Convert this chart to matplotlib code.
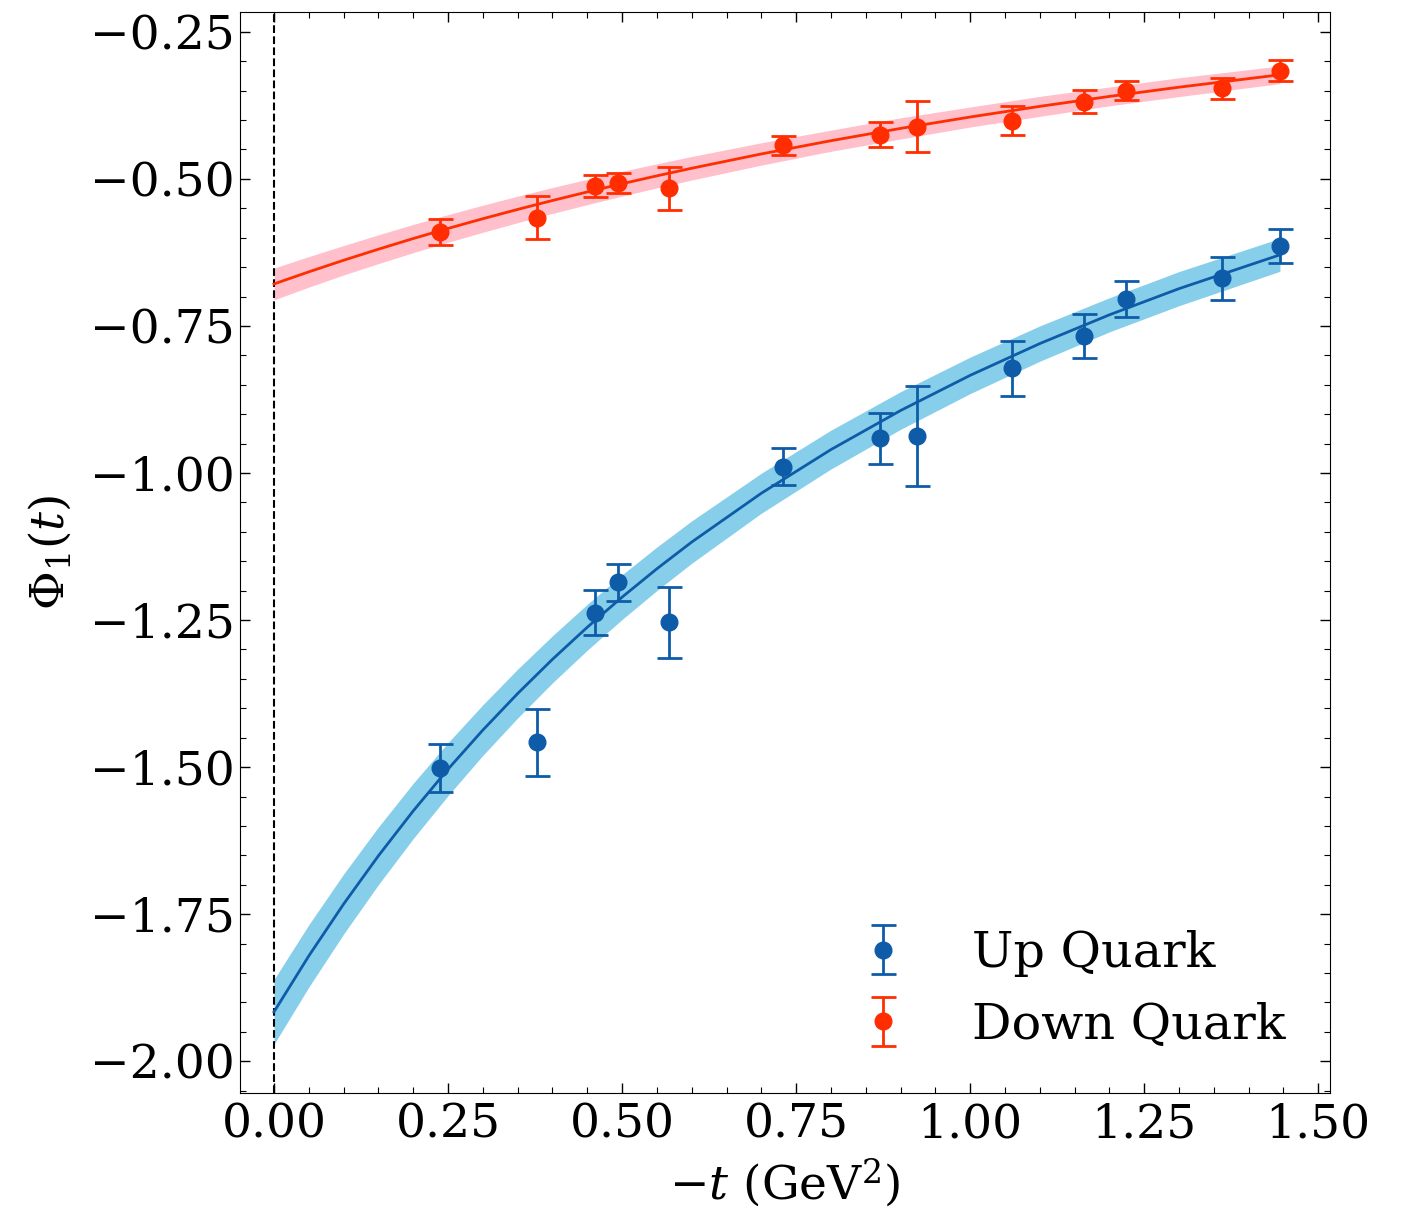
import matplotlib
matplotlib.use("Agg")
import matplotlib.pyplot as plt
from matplotlib.ticker import MultipleLocator

# === Data ===
# momentum transfer -t (GeV^2), shared by both quark flavours
neg_t = [0.2385, 0.378, 0.461, 0.494, 0.5675, 0.731, 0.870, 0.924,
         1.060, 1.163, 1.224, 1.362, 1.445]

up_vals = [-1.501, -1.4575, -1.2375, -1.186, -1.254, -0.989, -0.941, -0.9377,
           -0.822, -0.767, -0.704, -0.669, -0.614]
up_errs = [0.041, 0.057, 0.038, 0.032, 0.061, 0.031, 0.043, 0.085,
           0.047, 0.037, 0.031, 0.037, 0.029]

down_vals = [-0.590, -0.566, -0.512, -0.507, -0.516, -0.443, -0.425, -0.411,
             -0.401, -0.3685, -0.350, -0.346, -0.316]
down_errs = [0.022, 0.037, 0.019, 0.0165, 0.037, 0.016, 0.021, 0.044,
             0.025, 0.019, 0.0165, 0.018, 0.0176]

# fit curves and bands, sampled along -t
fit_t = [0.0, 0.05, 0.1, 0.15, 0.2, 0.25, 0.3, 0.35, 0.4, 0.45, 0.5, 0.55,
         0.6, 0.7, 0.8, 0.9, 1.0, 1.1, 1.2, 1.3, 1.445]
up_fit = [-1.916, -1.8209, -1.7327, -1.6507, -1.5744, -1.5034, -1.4370, -1.3749,
          -1.3167, -1.2622, -1.2110, -1.1628, -1.1174, -1.0344, -0.9602, -0.8938,
          -0.8340, -0.7800, -0.7311, -0.6866, -0.6291]
up_band = [0.055, 0.053, 0.051, 0.049, 0.047, 0.045, 0.043, 0.0415, 0.040, 0.039,
           0.038, 0.037, 0.036, 0.034, 0.033, 0.032, 0.031, 0.030, 0.029, 0.029, 0.028]
down_fit = [-0.6786, -0.6580, -0.6383, -0.6195, -0.6014, -0.5842, -0.5677, -0.5519,
            -0.5367, -0.5222, -0.5082, -0.4948, -0.4819, -0.4576, -0.4351, -0.4142,
            -0.3948, -0.3767, -0.3598, -0.3441, -0.3230]
down_band = [0.027, 0.026, 0.025, 0.0245, 0.024, 0.0235, 0.023, 0.0225, 0.022, 0.0215,
             0.021, 0.0205, 0.020, 0.019, 0.018, 0.018, 0.017, 0.017, 0.016, 0.016, 0.015]

UP_COLOR = "#0e5ca8"
DOWN_COLOR = "#ff2d00"

plt.rcParams["font.family"] = "DejaVu Serif"
plt.rcParams["mathtext.fontset"] = "dejavuserif"
FS = 34

fig = plt.figure(figsize=(14.03, 12.08), dpi=100)
ax = fig.add_axes([0.171, 0.0952, 0.777, 0.895])

ax.axvline(0.0, color="black", linestyle="--", linewidth=1.5)

# Up quark
ax.fill_between(fit_t, [f - b for f, b in zip(up_fit, up_band)],
                [f + b for f, b in zip(up_fit, up_band)],
                color="skyblue", linewidth=0)
ax.plot(fit_t, up_fit, color=UP_COLOR, linewidth=2)
ax.errorbar(neg_t, up_vals, yerr=up_errs, fmt="o", color=UP_COLOR,
            markersize=12, capsize=9, elinewidth=2, capthick=2, label="Up Quark")

# Down quark
ax.fill_between(fit_t, [f - b for f, b in zip(down_fit, down_band)],
                [f + b for f, b in zip(down_fit, down_band)],
                color="pink", linewidth=0)
ax.plot(fit_t, down_fit, color=DOWN_COLOR, linewidth=2)
ax.errorbar(neg_t, down_vals, yerr=down_errs, fmt="o", color=DOWN_COLOR,
            markersize=12, capsize=9, elinewidth=2, capthick=2, label="Down Quark")

ax.set_xlim(-0.049, 1.517)
ax.set_ylim(-2.054, -0.216)

ax.xaxis.set_major_locator(MultipleLocator(0.25))
ax.xaxis.set_minor_locator(MultipleLocator(0.05))
ax.yaxis.set_major_locator(MultipleLocator(0.25))
ax.yaxis.set_minor_locator(MultipleLocator(0.05))
ax.tick_params(which="both", direction="in", top=True, right=True, labelsize=FS)
ax.tick_params(which="major", length=7, width=1)
ax.tick_params(which="minor", length=4, width=0.8)
ax.tick_params(axis="x", which="major", pad=7)
ax.xaxis.set_major_formatter(matplotlib.ticker.FormatStrFormatter("%.2f"))
ax.yaxis.set_major_formatter(matplotlib.ticker.FuncFormatter(
    lambda v, p: f"{v:.2f}".replace("-", "\u2212")))

ax.set_xlabel(r"$-t$ (GeV$^2$)", fontsize=FS, labelpad=6)
ax.set_ylabel(r"$\Phi_1(t)$", fontsize=FS, labelpad=12)

ax.legend(loc="lower right", frameon=False, fontsize=35.5)

fig.savefig("out.png", dpi=100)
